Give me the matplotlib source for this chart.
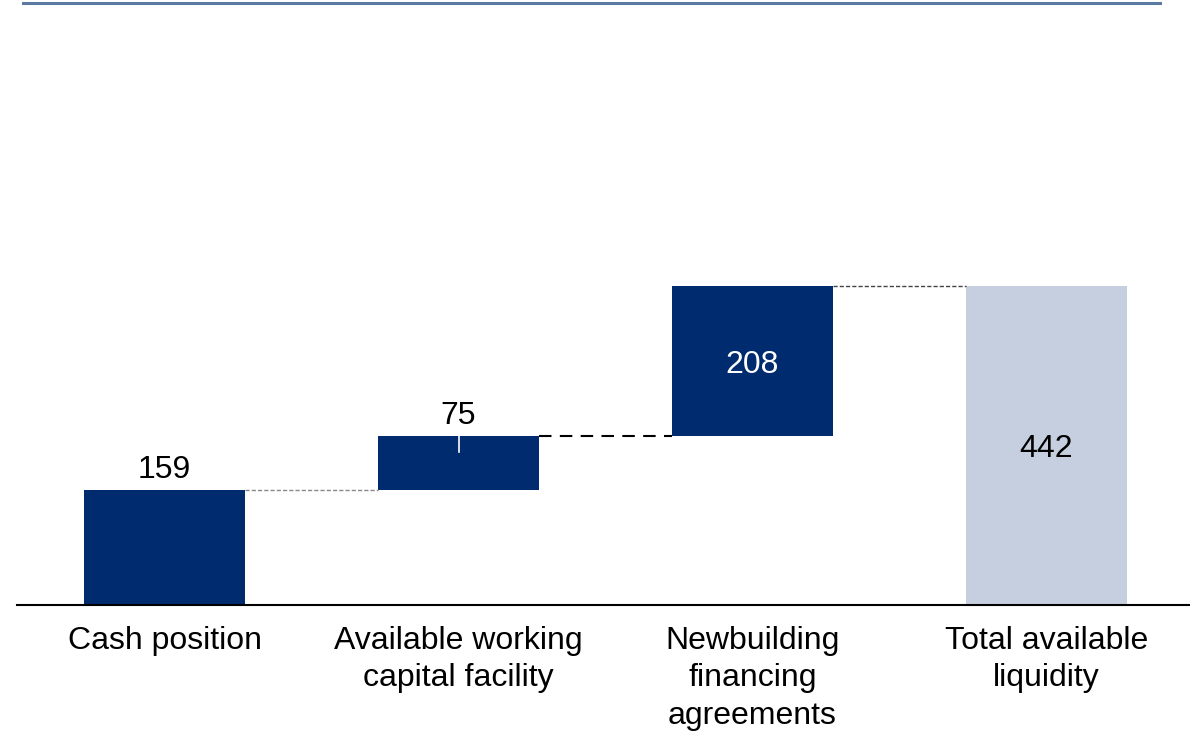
import matplotlib.pyplot as plt
from matplotlib.lines import Line2D

plt.rcParams["font.family"] = ["Liberation Sans", "DejaVu Sans"]

categories = ["Cash position", "Available working\ncapital facility",
              "Newbuilding\nfinancing\nagreements", "Total available\nliquidity"]
values = [159, 75, 208, 442]
is_total = [False, False, False, True]

NAVY = "#002b6e"
LIGHT = "#c5cfe0"

# waterfall bottoms
bottoms = []
running = 0
for v, tot in zip(values, is_total):
    if tot:
        bottoms.append(0)
    else:
        bottoms.append(running)
        running += v
tops = [b + v for b, v in zip(bottoms, values)]

fig = plt.figure(figsize=(11.9, 7.32), dpi=100)
ax = fig.add_axes([17 / 1190, 127 / 732, 1173 / 1190, 605 / 732])

x = list(range(len(categories)))
width = 0.548
colors = [LIGHT if t else NAVY for t in is_total]
ax.bar(x, values, bottom=bottoms, width=width, color=colors, edgecolor="none")

# connectors
conn_styles = [
    dict(color="#888888", lw=1.0, ls=(0, (3, 1.5))),
    dict(color="black", lw=1.5, ls=(0, (6, 4))),
    dict(color="#444444", lw=1.0, ls=(0, (3, 1.5))),
]
for i in range(len(values) - 1):
    ax.plot([x[i] + width / 2, x[i + 1] - width / 2], [tops[i], tops[i]],
            **conn_styles[i])

# small white mark on the facility bar
ax.plot([x[1], x[1]], [tops[1], tops[1] - 22], color="white", lw=1.2)

FS = 23
# value labels
ax.text(x[0], tops[0] + 7, str(values[0]), ha="center", va="bottom",
        fontsize=FS, color="black")
ax.text(x[1], tops[1] + 7, str(values[1]), ha="center", va="bottom",
        fontsize=FS, color="black")
ax.text(x[2], bottoms[2] + values[2] / 2 - 5, str(values[2]), ha="center",
        va="center", fontsize=FS, color="white")
ax.text(x[3], values[3] / 2 - 5, str(values[3]), ha="center", va="center",
        fontsize=FS, color="black")

ax.set_xlim(-0.502, 3.488)
ax.set_ylim(0, 838.3)
ax.set_xticks(x)
ax.set_xticklabels(categories, fontsize=FS, linespacing=1.32)
ax.tick_params(axis="x", length=0, pad=15)
ax.set_yticks([])
for s in ["top", "right", "left"]:
    ax.spines[s].set_visible(False)
ax.spines["bottom"].set_linewidth(1.5)

fig.add_artist(Line2D([23 / 1190, 1160 / 1190], [1 - 3 / 732, 1 - 3 / 732],
                      color="#5a7aa3", lw=2.2, transform=fig.transFigure))

fig.savefig("out.png", dpi=100)
